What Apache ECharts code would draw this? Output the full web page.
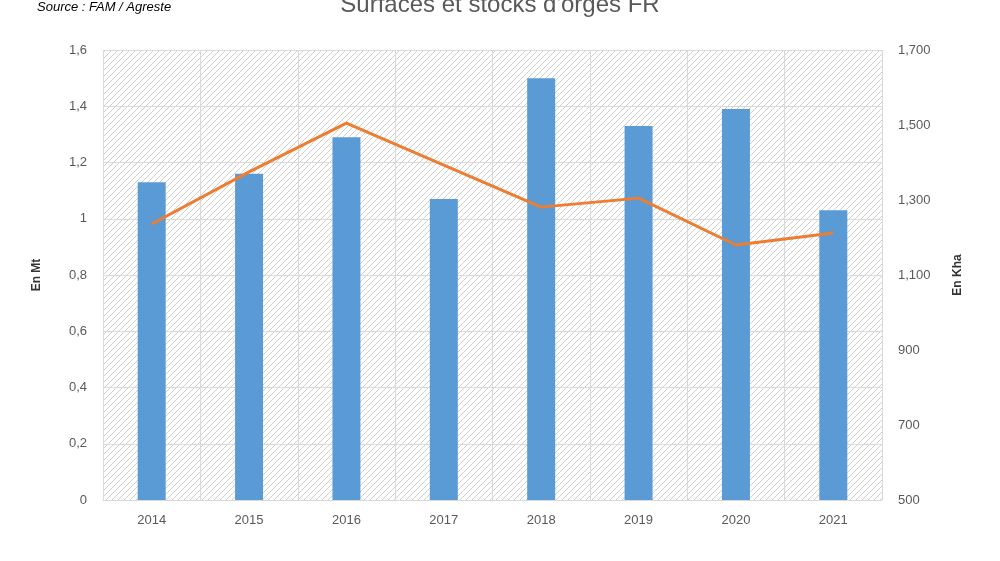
<!DOCTYPE html><html><head><meta charset="utf-8"><script src="https://cdn.jsdelivr.net/npm/echarts@6/dist/echarts.min.js"></script></head><body style="margin:0"><div id="c" style="width:1000px;height:561px"></div><script>
const years=['2014','2015','2016','2017','2018','2019','2020','2021'];
const stocks=[1.13,1.16,1.29,1.07,1.50,1.33,1.39,1.03];
const surfaces=[1236,1375,1505,1393,1281,1305,1180,1212];
const cv=document.createElement('canvas');cv.width=6;cv.height=6;const g=cv.getContext('2d');
g.fillStyle='#fff';g.fillRect(0,0,6,6);g.strokeStyle='#d0d0d0';g.lineWidth=1;
g.beginPath();g.moveTo(0,6);g.lineTo(6,0);g.moveTo(-1,1);g.lineTo(1,-1);g.moveTo(5,7);g.lineTo(7,5);g.stroke();
const ch=echarts.init(document.getElementById('c'));
const lab={color:'#595959',fontSize:13,fontFamily:'Liberation Sans'};
ch.setOption({animation:false,backgroundColor:'#fff',
title:[{text:'Surfaces et stocks d\'orges FR',left:'center',top:-12,textStyle:{color:'#595959',fontSize:24,fontWeight:'normal',fontFamily:'Liberation Sans'}},
{text:'Source : FAM / Agreste',left:32,top:-4,textStyle:{color:'#000',fontSize:13,fontStyle:'italic',fontWeight:'normal',fontFamily:'Liberation Sans'}}],
grid:{left:103,right:118,top:50,bottom:61,show:true,backgroundColor:{image:cv,repeat:'repeat'},borderWidth:0},
xAxis:{type:'category',data:years,axisTick:{show:false},axisLine:{lineStyle:{color:'#d9d9d9'}},axisLabel:{...lab,margin:14},splitLine:{show:true,lineStyle:{color:'#d9d9d9'}}},
yAxis:[{type:'value',min:0,max:1.6,interval:0.2,name:'En Mt',nameLocation:'middle',nameGap:60,nameTextStyle:{fontWeight:'bold',fontSize:12,color:'#333',fontFamily:'Liberation Sans'},axisLabel:{...lab,margin:16,formatter:v=>String(Math.round(v*10)/10).replace('.',',')},splitLine:{lineStyle:{color:'#d9d9d9'}},axisLine:{show:false}},
{type:'value',min:500,max:1700,interval:200,name:'En Kha',nameLocation:'middle',nameGap:70,nameRotate:90,nameTextStyle:{fontWeight:'bold',fontSize:12,color:'#333',fontFamily:'Liberation Sans'},axisLabel:{...lab,margin:16},splitLine:{show:false},axisLine:{show:false}}],
series:[{type:'bar',data:stocks,barWidth:28,itemStyle:{color:'#5b9bd5'}},
{type:'line',yAxisIndex:1,data:surfaces,symbol:'none',lineStyle:{color:'#ed7d31',width:3}}]});
</script></body></html>
